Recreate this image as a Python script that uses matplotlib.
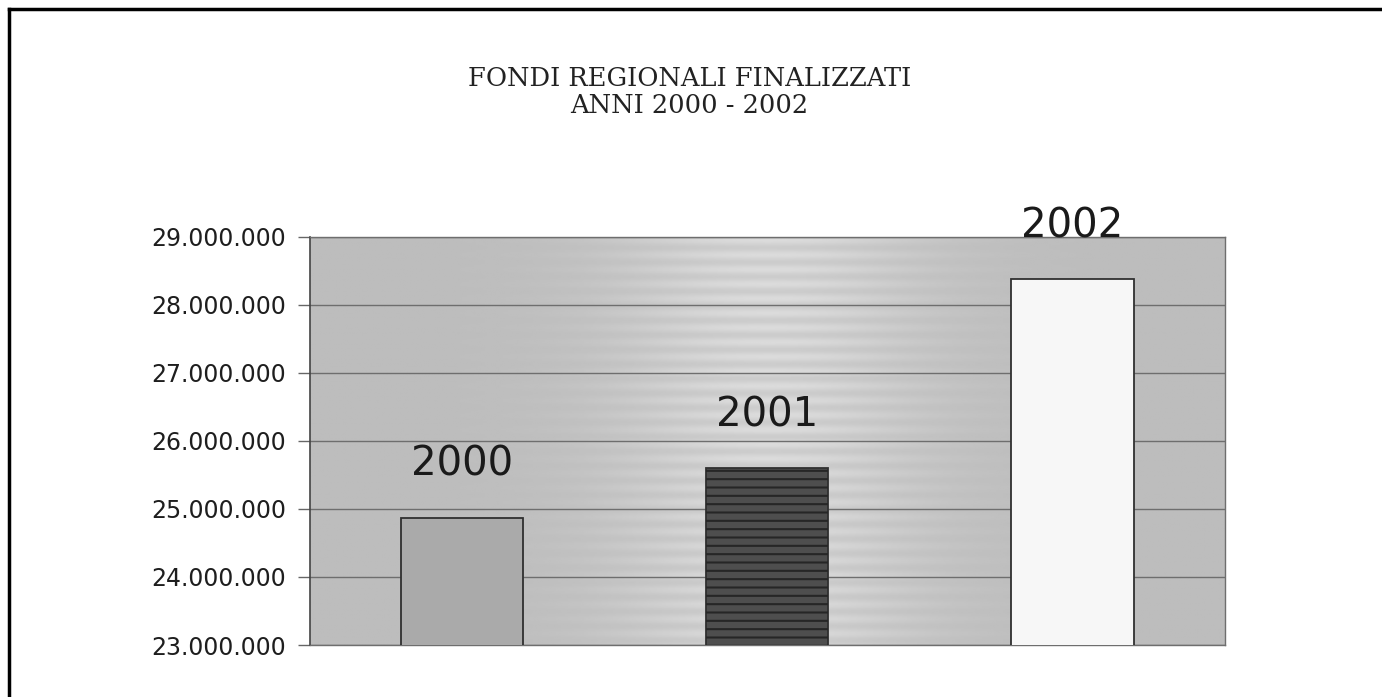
import numpy as np
import matplotlib
matplotlib.use("Agg")
import matplotlib.pyplot as plt
from matplotlib.ticker import FuncFormatter, MultipleLocator
from matplotlib.lines import Line2D

# data
anni = ["2000", "2001", "2002"]
fondi = [24870000, 25600000, 28380000]
colori = ["#aaaaaa", "#4e4e4e", "#f7f7f7"]
titolo1 = "FONDI REGIONALI FINALIZZATI"
titolo2 = "ANNI 2000 - 2002"

fig = plt.figure(figsize=(13.82, 6.97), dpi=100)
fig.patch.set_facecolor("white")

# frame around the page (only top and left edges visible)
fig.add_artist(Line2D([0.0065, 1.0], [0.987, 0.987], color="black", lw=2.5,
                      transform=fig.transFigure))
fig.add_artist(Line2D([0.0065, 0.0065], [0.987, 0.0], color="black", lw=2.5,
                      transform=fig.transFigure))

ax = fig.add_axes([0.2243, 0.0746, 0.6621, 0.5854])
ax.set_facecolor("#bdbdbd")

# lighter striped band in the middle of the plot background
xs = np.linspace(0, 1, 400)
ys = np.linspace(0, 1, 300)
X, Y = np.meshgrid(xs, ys)
band = np.exp(-((X - 0.5) / 0.17) ** 2)
stripes = 0.5 + 0.5 * np.sin(Y * 2 * np.pi * 28)
bg = 0.74 + band * (0.06 + 0.06 * stripes)
ax.imshow(bg, extent=[0, 1, 0, 1], transform=ax.transAxes, cmap="gray",
          vmin=0, vmax=1, aspect="auto", zorder=0, interpolation="bilinear")

x = np.arange(len(anni))
bars = ax.bar(x, fondi, width=0.4, color=colori, edgecolor="#303030",
              linewidth=1.3, zorder=3)

# horizontal stripes on the 2001 bar
plt.rcParams["hatch.linewidth"] = 1.5
ax.bar([x[1]], [fondi[1]], width=0.4, color="none", edgecolor="#262626",
       hatch="--", linewidth=0, zorder=4)

for xi, v, lab in zip(x, fondi, anni):
    ax.annotate(lab, (xi, v), xytext=(0, 53), textcoords="offset pixels",
                ha="center", va="center", fontsize=29, color="#1a1a1a",
                annotation_clip=False)

ax.set_xlim(-0.5, 2.5)
ax.set_ylim(23000000, 29000000)
ax.yaxis.set_major_locator(MultipleLocator(1000000))
ax.yaxis.set_major_formatter(FuncFormatter(lambda v, p: "{:,.0f}".format(v).replace(",", ".")))
ax.grid(axis="y", color="#6e6e6e", linewidth=1.0, zorder=1)
ax.set_axisbelow(True)
ax.set_xticks([])
ax.tick_params(axis="y", direction="out", length=9, width=1, color="#666666",
               labelsize=17, labelcolor="#1e1e1e", pad=8)

for side in ["top", "right", "bottom"]:
    ax.spines[side].set_color("#6e6e6e")
    ax.spines[side].set_linewidth(1.0)
ax.spines["left"].set_color("#444444")
ax.spines["left"].set_linewidth(1.2)

fig.text(0.499, 0.888, titolo1, ha="center", va="center", fontsize=18.5,
         family="DejaVu Serif", color="#222222")
fig.text(0.499, 0.849, titolo2, ha="center", va="center", fontsize=18.5,
         family="DejaVu Serif", color="#222222")

fig.savefig("out.png", dpi=100)
